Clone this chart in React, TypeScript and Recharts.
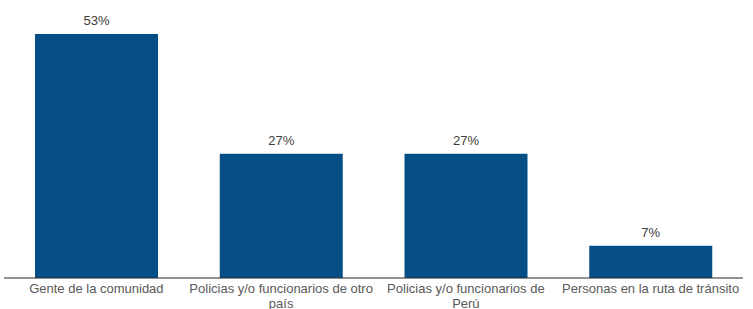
import React from 'react';
import { BarChart, Bar, XAxis, YAxis, LabelList } from 'recharts';

const categories = [
  'Gente de la comunidad',
  'Policias y/o funcionarios de otro país',
  'Policias y/o funcionarios de Perú',
  'Personas en la ruta de tránsito',
];
const tickLines = [
  ['Gente de la comunidad'],
  ['Policias y/o funcionarios de otro', 'país'],
  ['Policias y/o funcionarios de', 'Perú'],
  ['Personas en la ruta de tránsito'],
];
const values = [53, 27, 27, 7];

const data = categories.map((name, i) => ({ name, value: values[i] }));

const FONT = '"Liberation Sans", Arial, sans-serif';

const Tick = (props: any) => {
  const { x, y, index } = props;
  const lines = tickLines[index] || [];
  return (
    <text
      x={x}
      y={y + 7}
      textAnchor="middle"
      fontSize={13}
      fontFamily={FONT}
      fill="#595959"
    >
      {lines.map((l, i) => (
        <tspan key={i} x={x} dy={i === 0 ? 0 : 15}>
          {l}
        </tspan>
      ))}
    </text>
  );
};

export default function App() {
  return (
    <div style={{ position: 'absolute', left: 0, top: 0, background: '#fff' }}>
      <BarChart
        width={753}
        height={309}
        data={data}
        margin={{ top: 34, right: 10, left: 4, bottom: 0 }}
        barSize={123}
      >
        <XAxis
          dataKey="name"
          interval={0}
          tickLine={false}
          axisLine={{ stroke: '#262626', strokeWidth: 1 }}
          height={31}
          tick={<Tick />}
        />
        <YAxis hide domain={[0, 53]} />
        <Bar dataKey="value" fill="#064f86" isAnimationActive={false}>
          <LabelList
            dataKey="value"
            position="top"
            offset={9}
            formatter={(v: any) => `${v}%`}
            style={{ fontSize: 13, fontFamily: FONT, fill: '#404040' }}
          />
        </Bar>
      </BarChart>
    </div>
  );
}
